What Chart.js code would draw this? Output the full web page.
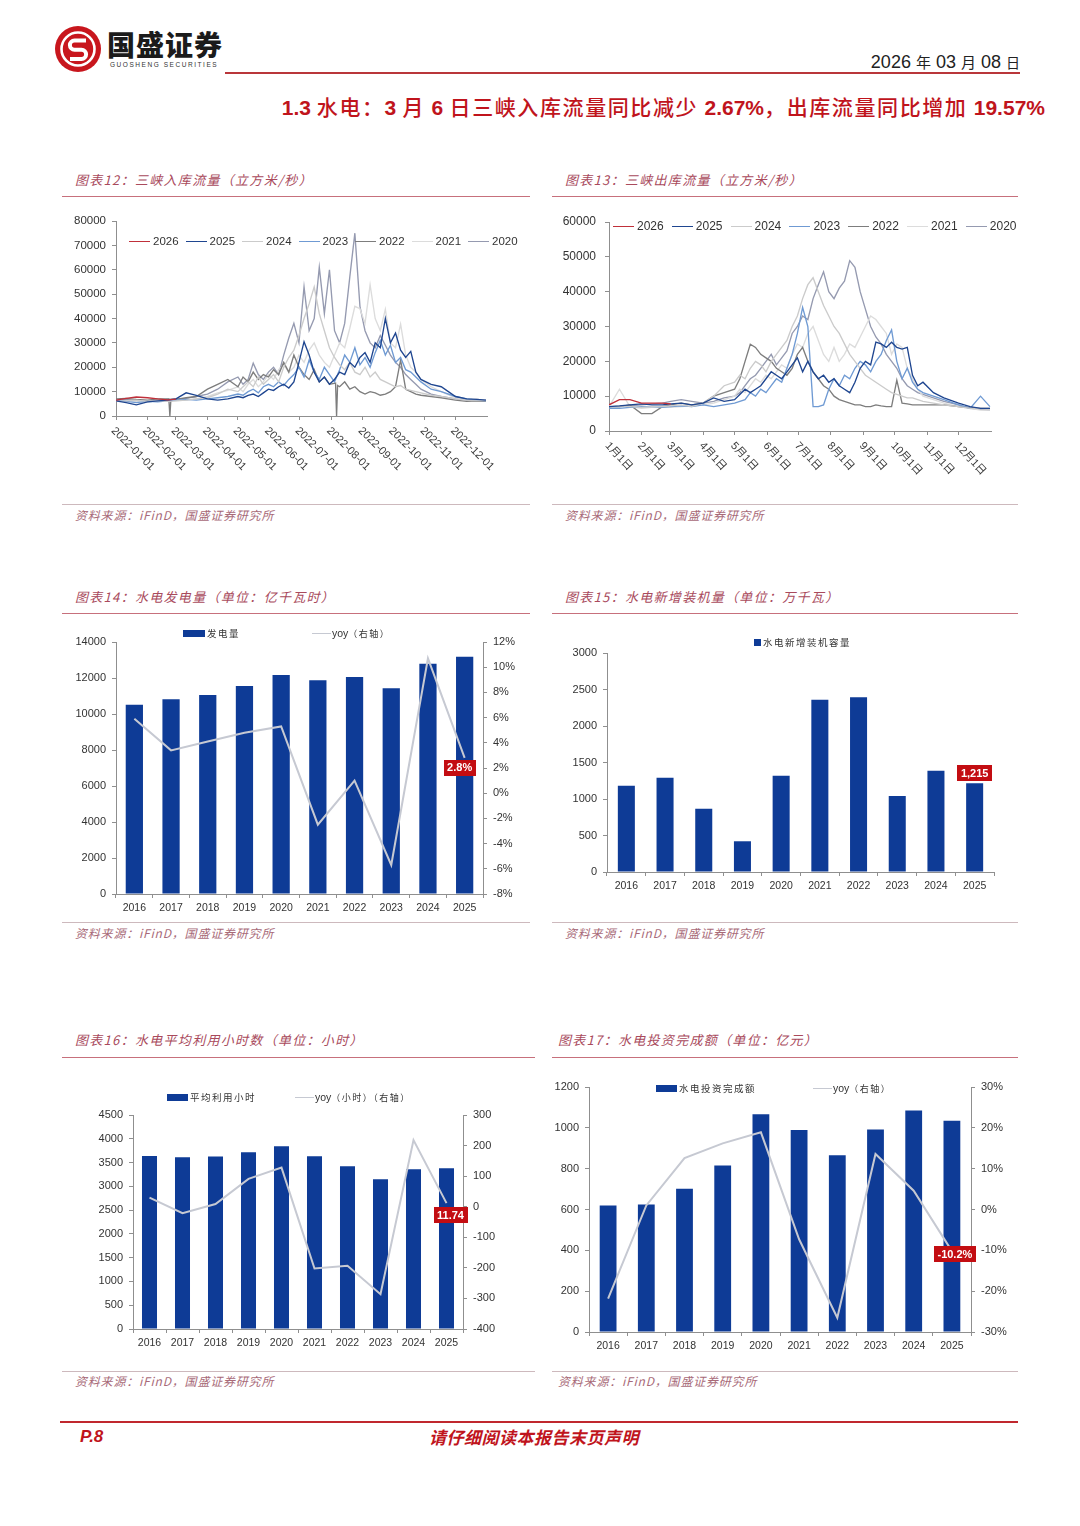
<!DOCTYPE html>
<html><head><meta charset="utf-8">
<script src="https://cdn.jsdelivr.net/npm/chart.js@4.4.1/dist/chart.umd.min.js"></script>
<style>
html,body{margin:0;padding:0;}
body{width:1080px;height:1526px;background:#fff;position:relative;overflow:hidden;font-family:'Liberation Sans',Arial,'Noto Sans CJK SC',sans-serif;}
.abs{position:absolute;white-space:nowrap;}
.ptitle{position:absolute;font-family:'Noto Sans CJK SC',sans-serif;font-style:italic;color:#a94a5c;font-size:13px;letter-spacing:1.3px;white-space:nowrap;line-height:16px;}
.rline{position:absolute;height:0;border-top:1.5px solid #c7707c;}
.sline{position:absolute;height:0;border-top:1.5px solid #cdb9bd;}
.src{position:absolute;font-family:'Noto Sans CJK SC',sans-serif;font-style:italic;color:#a86a78;font-size:12px;letter-spacing:0.8px;white-space:nowrap;line-height:14px;}
canvas{position:absolute;}
.leg{position:absolute;display:flex;align-items:center;white-space:nowrap;color:#333;}
.lsw{display:inline-block;height:0;margin-right:3px;}
.cjk{font-family:'Noto Sans CJK SC',sans-serif;}
.sub .c{font-family:'Noto Sans CJK SC',sans-serif;font-weight:500;letter-spacing:1.6px;}
</style>
</head><body>

<svg class="abs" style="left:54px;top:25px" width="48" height="48" viewBox="0 0 48 48">
  <circle cx="24" cy="24" r="23" fill="#c8161d"/>
  <circle cx="24" cy="24" r="16.5" fill="none" stroke="#fff" stroke-width="2.6"/>
  <path d="M32 15.5 H20.5 a4.6 4.6 0 0 0 0 9.2 h7 a4.6 4.6 0 0 1 0 9.2 H16" fill="none" stroke="#fff" stroke-width="4"/>
</svg>
<div class="abs cjk" style="left:107px;top:27px;font-size:28px;font-weight:900;color:#1b1b1b;letter-spacing:1px;line-height:34px;">国盛证券</div>
<div class="abs" style="left:110px;top:61px;font-size:6.5px;letter-spacing:1.55px;color:#333;line-height:8px;">GUOSHENG SECURITIES</div>
<div class="abs" style="left:225px;top:72px;width:795px;height:0;border-top:2px solid #b9363a;"></div>
<div class="abs" style="right:60px;top:51px;font-size:18px;color:#222;line-height:22px;">2026 <span class="cjk" style="font-size:15px">年</span> 03 <span class="cjk" style="font-size:15px">月</span> 08 <span class="cjk" style="font-size:14px">日</span></div>
<div class="abs sub" style="right:35px;top:92px;font-size:21px;color:#c0141c;font-weight:bold;line-height:28px;"><span>1.3 </span><span class="c">水电：</span><span>3</span><span class="c"> 月 </span><span>6</span><span class="c"> 日三峡入库流量同比减少 </span><span>2.67%</span><span class="c">，出库流量同比增加 </span><span>19.57%</span></div>

<!-- Panel titles and rules -->
<div class="ptitle" style="left:75px;top:172px;">图表12：三峡入库流量（立方米/秒）</div>
<div class="rline" style="left:62px;top:196px;width:468px;"></div>
<div class="ptitle" style="left:565px;top:172px;">图表13：三峡出库流量（立方米/秒）</div>
<div class="rline" style="left:552px;top:196px;width:466px;"></div>
<div class="sline" style="left:62px;top:504px;width:468px;"></div>
<div class="sline" style="left:552px;top:504px;width:466px;"></div>
<div class="src" style="left:75px;top:508px;">资料来源：iFinD，国盛证券研究所</div>
<div class="src" style="left:565px;top:508px;">资料来源：iFinD，国盛证券研究所</div>

<div class="ptitle" style="left:75px;top:589px;">图表14：水电发电量（单位：亿千瓦时）</div>
<div class="rline" style="left:62px;top:613px;width:468px;"></div>
<div class="ptitle" style="left:565px;top:589px;">图表15：水电新增装机量（单位：万千瓦）</div>
<div class="rline" style="left:552px;top:613px;width:466px;"></div>
<div class="sline" style="left:62px;top:922px;width:468px;"></div>
<div class="sline" style="left:552px;top:922px;width:466px;"></div>
<div class="src" style="left:75px;top:926px;">资料来源：iFinD，国盛证券研究所</div>
<div class="src" style="left:565px;top:926px;">资料来源：iFinD，国盛证券研究所</div>

<div class="ptitle" style="left:75px;top:1032px;">图表16：水电平均利用小时数（单位：小时）</div>
<div class="rline" style="left:62px;top:1057px;width:473px;"></div>
<div class="ptitle" style="left:558px;top:1032px;">图表17：水电投资完成额（单位：亿元）</div>
<div class="rline" style="left:552px;top:1057px;width:466px;"></div>
<div class="sline" style="left:62px;top:1371px;width:473px;"></div>
<div class="sline" style="left:552px;top:1371px;width:466px;"></div>
<div class="src" style="left:75px;top:1374px;">资料来源：iFinD，国盛证券研究所</div>
<div class="src" style="left:558px;top:1374px;">资料来源：iFinD，国盛证券研究所</div>

<div class="abs" style="left:60px;top:1421px;width:958px;height:0;border-top:2px solid #c0282e;"></div>
<div class="abs" style="left:80px;top:1426px;font-size:17px;font-weight:bold;font-style:italic;color:#c0141c;line-height:22px;">P.8</div>
<div class="abs cjk" style="left:429px;top:1426px;font-size:17px;font-weight:bold;font-style:italic;color:#c0141c;letter-spacing:0.5px;line-height:22px;">请仔细阅读本报告末页声明</div>

<canvas id="c12" width="468" height="290" style="left:62px;top:205px;"></canvas>
<canvas id="c13" width="466" height="290" style="left:552px;top:205px;"></canvas>
<canvas id="c14" width="468" height="298" style="left:62px;top:620px;"></canvas>
<canvas id="c15" width="466" height="298" style="left:552px;top:620px;"></canvas>
<canvas id="c16" width="473" height="305" style="left:62px;top:1065px;"></canvas>
<canvas id="c17" width="466" height="305" style="left:552px;top:1065px;"></canvas>

<div id="legends"></div>

<script>
// ---------------- DATA ----------------
const YEARS = ['2026','2025','2024','2023','2022','2021','2020'];
const MONTH_START_DAYS = [0,31,59,90,120,151,181,212,243,273,304,334];
const X_TICKS_12 = ['2022-01-01','2022-02-01','2022-03-01','2022-04-01','2022-05-01','2022-06-01','2022-07-01','2022-08-01','2022-09-01','2022-10-01','2022-11-01','2022-12-01'];
const X_TICKS_13 = ['1月1日','2月1日','3月1日','4月1日','5月1日','6月1日','7月1日','8月1日','9月1日','10月1日','11月1日','12月1日'];

// day-of-year sample points (Jan 1 = 0)
const GRID_DAYS = [0,10,20,31,41,51,59,69,79,90,100,110,
  120,125,130,135,140,145,150,155,160,165,170,175,180,185,190,195,200,205,210,215,220,225,230,235,240,245,250,255,260,265,270,275,280,285,290,295,300,
  310,320,334,345,355,364];
const GRID_DAYS_IN_2022 = [0,10,20,31,41,52,53,54,59,69,79,90,100,110,
  120,125,130,135,140,145,150,155,160,165,170,175,180,185,190,195,200,205,210,
  216,217,218,
  220,225,230,235,240,245,250,255,260,265,270,275,280,285,290,295,300,
  310,320,334,345,355,364];

// 三峡入库流量 (立方米/秒)
const IN_2026 = [6500,7200,7800,7500,7000,6600,6900];
const IN_2025 = [6200,5500,4600,5800,6200,6500,7000,9500,8500,7000,6500,7000,
  8000,7500,8500,9000,8000,9500,11000,10500,12000,13000,11500,14000,22000,30500,25000,18000,14000,16000,13000,15000,18000,17000,22000,20000,24000,26000,22000,30000,28000,40000,30000,34000,27000,24000,26500,18000,15000,
  13000,12000,8000,7000,6800,6500];
const IN_2024 = [6000,6200,6500,6000,6300,6000,6200,6500,7000,7500,9000,11000,
  10000,12000,14000,12000,16000,13000,15000,17000,14000,20000,24000,27000,33000,40000,46000,53000,42000,35000,28000,24000,21000,19000,22000,18000,17000,20000,16000,18000,15000,14000,13000,12000,12500,11000,10500,10000,9500,
  8500,8000,7000,6500,6500,6300];
const IN_2023 = [6500,6000,5500,6000,5800,6200,6500,6800,6500,7000,7500,8000,
  9000,8500,10000,11000,9500,12000,13000,12000,14000,12500,15000,17000,20000,16000,23000,18000,15000,20000,17000,14000,19000,25000,22000,28000,21000,24000,20000,26000,31000,25000,29000,22000,24000,19000,18000,16000,14000,
  11000,10000,8000,7000,6500,6200];
const IN_2022 = [7000,7200,6800,6500,7000,7000,0,6800,6800,7500,8000,11000,13000,15000,
  12000,16000,14000,18000,15000,17000,16000,19000,17000,22000,18000,25000,20000,17000,15000,19000,14000,16000,13000,
  13500,0,12500,
  12000,14000,11000,12000,10000,9000,10000,9500,8500,9000,10000,12000,23000,11000,10000,9000,8500,
  8000,7500,6500,6000,6200,6000];
const IN_2021 = [6000,6300,6000,5800,6200,6000,6300,6500,7000,8000,9500,10500,
  12000,10000,13000,15000,12000,14000,17000,15000,19000,21000,18000,20000,25000,22000,27000,30000,25000,22000,20000,25000,30000,28000,36000,45000,44000,38000,53800,40000,35000,43800,30000,28000,37700,25000,20000,18000,15000,
  12000,10000,7500,7000,6800,6500];
const IN_2020 = [6500,6800,6200,6000,6500,6800,7000,7200,8000,9000,11000,14000,
  16000,13000,15000,21700,17000,15000,18000,20000,17000,25000,32000,38000,30000,53000,35000,40000,61000,42000,60000,35000,30000,38000,57000,75000,45000,35000,30000,28000,33000,29000,25000,22000,20000,17000,15000,13000,11000,
  9000,8000,7000,6500,6800,6500];

// 三峡出库流量 (立方米/秒)
const OUT_2026 = [7500,9000,9000,8000,8000,8000,7800];
const OUT_2025 = [7000,7200,7500,7800,7500,7500,7800,8000,7500,8000,9500,8500,
  9000,10500,12000,11000,12000,13000,15000,17000,16000,15000,17000,19000,21000,17000,20000,17000,15000,16000,14000,15000,13000,12000,11000,14000,18000,20000,19000,25500,25000,24000,25500,24000,23500,24000,16000,13000,14000,
  11000,9500,8000,7000,6500,6500];
const OUT_2024 = [7000,7200,7000,6800,7000,7000,7200,7500,7000,8000,10000,13000,
  14000,16000,15000,18000,20000,19000,17000,20000,22000,24000,26000,30000,33000,38000,42000,44000,40000,36000,33000,30000,28000,25000,22000,20000,18000,16000,15000,14000,13000,12000,11000,10500,10000,9500,9500,9000,8500,
  8000,7500,7000,6500,6500,6200];
const OUT_2023 = [6500,6500,6800,7000,7000,6800,7000,7200,7000,7500,7000,7500,
  8000,8500,9000,11000,10000,12000,11000,13000,15000,14000,18000,22000,28000,35500,30000,7000,7000,7500,12000,15000,13000,16000,15000,18000,20000,19000,17000,20000,22000,26000,29000,20000,15000,18000,14000,12000,11000,
  10000,9000,7500,6500,10000,7000];
const OUT_2022 = [7000,7000,7500,5000,5000,7000,7500,8000,7500,8000,10000,11000,
  12000,15000,20000,24900,24000,22000,21000,20000,18000,17000,16000,18000,22000,24000,20000,17000,15000,13000,12000,10000,9000,8500,8000,7500,7500,7000,7000,7500,7200,7000,7000,14600,8000,7800,7500,7500,7500,
  7500,7500,7000,6800,6500,6500];
const OUT_2021 = [7000,12000,7000,6500,6800,7000,6800,7000,7200,7500,8000,9000,
  10000,12000,11000,13000,15000,14000,16000,15000,17000,19000,18000,22000,25000,24000,28000,30000,26000,22000,20000,24000,20000,22000,25000,24000,27000,30000,33000,32000,30000,28000,22000,25000,24000,18000,15000,12000,10000,
  9000,8000,7000,6500,6000,6000];
const OUT_2020 = [7000,7000,7200,7500,7800,8000,8500,9000,8500,8000,8500,9500,
  10000,11000,13000,15000,16000,18000,20000,22000,19000,21000,23000,28000,30000,33000,32000,38000,42000,45700,40000,38000,41000,43000,48900,47000,40000,35000,30000,27000,25000,22000,20000,18000,15000,13000,12000,11000,10500,
  9500,8500,7500,6500,6200,6000];

// annual series
const BAR_YEARS = ['2016','2017','2018','2019','2020','2021','2022','2023','2024','2025'];
const GEN = [10520,10820,11060,11560,12160,11880,12050,11430,12790,13180];      // 亿千瓦时
const GEN_YOY = [5.9,3.4,4.1,4.8,5.3,-2.5,1.0,-5.7,10.7,2.8];                 // %
const CAP_ADD = [1180,1290,866,421,1319,2359,2395,1040,1388,1215];            // 万千瓦
const HOURS = [3639,3611,3625,3716,3842,3632,3422,3149,3359,3380];            // 小时
const HOURS_YOY = [30,-21,9,91,128,-202,-193,-286,218,11.74];                 // 小时
const INVEST = [619,625,702,815,1067,989,866,992,1085,1035];                   // 亿元
const INVEST_YOY = [-21.8,1.0,12.6,16.2,18.9,-7.3,-26.5,13.6,4.6,-10.2];       // %

// ---------------- STYLE ----------------
const SERIES_COLORS = {'2026':'#c0303a','2025':'#1f4690','2024':'#cbcbcb','2023':'#6f9ad3','2022':'#7d7d7d','2021':'#dcdcdc','2020':'#959ab0'};
const BAR_COLOR = '#0e3b96';
const YOY_COLOR = '#c6c9d2';
const AXIS_COLOR = '#8f8f8f';
const TAG_COLOR = '#c30d12';
const plain = v => String(v);

Chart.defaults.font.family = "'Liberation Sans', Arial, 'Noto Sans CJK SC', sans-serif";
Chart.defaults.color = '#333';
Chart.defaults.animation = false;

const rotatedTicks = {
  id: 'rotatedTicks',
  afterDraw(chart, args, o) {
    if (!o || !o.labels) return;
    const ctx = chart.ctx, xs = chart.scales.x, ca = chart.chartArea;
    ctx.save();
    ctx.font = o.font; ctx.fillStyle = o.color; ctx.textAlign = 'left'; ctx.textBaseline = 'middle';
    o.values.forEach((v, i) => {
      const x = xs.getPixelForValue(v);
      ctx.save();
      ctx.translate(x + o.dx, ca.bottom + o.dy);
      ctx.rotate(o.angle * Math.PI / 180);
      ctx.fillText(o.labels[i], 0, 0);
      ctx.restore();
    });
    ctx.restore();
  }
};

const valueTag = {
  id: 'valueTag',
  afterDatasetsDraw(chart, args, o) {
    if (!o || !o.text) return;
    const el = chart.getDatasetMeta(o.dataset).data[o.index];
    if (!el) return;
    const ctx = chart.ctx;
    ctx.save();
    ctx.font = "bold 11px 'Liberation Sans', Arial, sans-serif";
    const w = ctx.measureText(o.text).width + 7, h = 16;
    const x = el.x + o.dx, y = el.y + o.dy;
    ctx.fillStyle = TAG_COLOR;
    ctx.fillRect(Math.round(x - w / 2), Math.round(y - h / 2), Math.round(w), h);
    ctx.fillStyle = '#fff'; ctx.textAlign = 'center'; ctx.textBaseline = 'middle';
    ctx.fillText(o.text, x, y + 0.5);
    ctx.restore();
  }
};

function flowChart(id, cfg) {
  const datasets = cfg.series.map(s => ({
    label: s.label,
    data: s.values.map((v, i) => ({x: s.days[i], y: v})),
    borderColor: SERIES_COLORS[s.label], borderWidth: 1.35, pointRadius: 0, pointHoverRadius: 0, tension: 0, fill: false
  }));
  new Chart(document.getElementById(id), {
    type: 'line',
    data: {datasets},
    options: {
      responsive: false, animation: false, events: [],
      layout: {padding: cfg.padding},
      plugins: {
        legend: {display: false}, tooltip: {enabled: false},
        rotatedTicks: {values: MONTH_START_DAYS, labels: cfg.xLabels, font: cfg.xFont, color: '#3a3a3a', dx: cfg.dx, dy: cfg.dy, angle: cfg.angle}
      },
      scales: {
        x: {type: 'linear', min: 0, max: 365,
            afterBuildTicks: s => { s.ticks = MONTH_START_DAYS.map(v => ({value: v})); },
            ticks: {display: false},
            grid: {drawOnChartArea: false, tickLength: 4, color: AXIS_COLOR},
            border: {color: AXIS_COLOR},
            afterFit: s => { s.height = cfg.xHeight; }},
        y: {min: 0, max: cfg.yMax,
            ticks: {stepSize: 10000, font: {size: cfg.yFont}, color: '#333', padding: cfg.yPad, callback: plain},
            grid: {drawOnChartArea: false, tickLength: 4, color: AXIS_COLOR},
            border: {color: AXIS_COLOR},
            afterFit: s => { s.width = cfg.yWidth; }}
      }
    },
    plugins: [rotatedTicks]
  });
}

function barChart(id, cfg) {
  const datasets = [{type: 'bar', label: cfg.barLabel, data: cfg.bars, backgroundColor: BAR_COLOR,
    categoryPercentage: 1, barPercentage: cfg.barPct, yAxisID: 'y', order: 2}];
  if (cfg.line) datasets.push({type: 'line', label: cfg.lineLabel, data: cfg.line, borderColor: YOY_COLOR,
    borderWidth: 2, pointRadius: 0, pointHoverRadius: 0, tension: 0, yAxisID: 'y1', order: 1});
  const scales = {
    x: {type: 'category', ticks: {font: {size: 10.5}, color: '#333', padding: 4},
        grid: {drawOnChartArea: false, tickLength: 4, color: AXIS_COLOR, offset: true},
        border: {color: AXIS_COLOR},
        afterFit: s => { s.height = cfg.xHeight; }},
    y: {position: 'left', min: 0, max: cfg.yMax,
        ticks: {stepSize: cfg.yStep, font: {size: 11}, color: '#333', padding: 6, callback: plain},
        grid: {drawOnChartArea: false, tickLength: 4, color: AXIS_COLOR},
        border: {color: AXIS_COLOR},
        afterFit: s => { s.width = cfg.yWidth; }}
  };
  if (cfg.line) scales.y1 = {position: 'right', min: cfg.y1Min, max: cfg.y1Max,
        ticks: {stepSize: cfg.y1Step, font: {size: 11}, color: '#333', padding: 6, callback: cfg.y1Fmt},
        grid: {drawOnChartArea: false, tickLength: 4, color: AXIS_COLOR},
        border: {color: AXIS_COLOR},
        afterFit: s => { s.width = cfg.y1Width; }};
  new Chart(document.getElementById(id), {
    data: {labels: BAR_YEARS, datasets},
    options: {
      responsive: false, animation: false, events: [],
      layout: {padding: cfg.padding},
      plugins: {legend: {display: false}, tooltip: {enabled: false}, valueTag: cfg.tag},
      scales
    },
    plugins: [valueTag]
  });
}

// ---------------- CHARTS ----------------
flowChart('c12', {
  series: [
    {label: '2026', days: GRID_DAYS, values: IN_2026},
    {label: '2025', days: GRID_DAYS, values: IN_2025},
    {label: '2024', days: GRID_DAYS, values: IN_2024},
    {label: '2023', days: GRID_DAYS, values: IN_2023},
    {label: '2022', days: GRID_DAYS_IN_2022, values: IN_2022},
    {label: '2021', days: GRID_DAYS, values: IN_2021},
    {label: '2020', days: GRID_DAYS, values: IN_2020}
  ],
  yMax: 80000, yFont: 11.5, yPad: 6, yWidth: 54,
  xLabels: X_TICKS_12, xFont: "11px 'Liberation Sans', Arial, sans-serif", dx: -3, dy: 13, angle: 45,
  padding: {top: 16, right: 43, left: 0, bottom: 0}, xHeight: 79
});

flowChart('c13', {
  series: [
    {label: '2026', days: GRID_DAYS, values: OUT_2026},
    {label: '2025', days: GRID_DAYS, values: OUT_2025},
    {label: '2024', days: GRID_DAYS, values: OUT_2024},
    {label: '2023', days: GRID_DAYS, values: OUT_2023},
    {label: '2022', days: GRID_DAYS, values: OUT_2022},
    {label: '2021', days: GRID_DAYS, values: OUT_2021},
    {label: '2020', days: GRID_DAYS, values: OUT_2020}
  ],
  yMax: 60000, yFont: 12, yPad: 9, yWidth: 57,
  xLabels: X_TICKS_13, xFont: "11px 'Liberation Sans', 'Noto Sans CJK SC', sans-serif", dx: -2, dy: 13, angle: 47,
  padding: {top: 17, right: 27, left: 0, bottom: 0}, xHeight: 64
});

barChart('c14', {
  bars: GEN, barLabel: '发电量', barPct: 0.47, yMax: 14000, yStep: 2000, yWidth: 54,
  line: GEN_YOY, lineLabel: 'yoy（右轴）', y1Min: -8, y1Max: 12, y1Step: 2, y1Width: 47, y1Fmt: v => v + '%',
  padding: {top: 22, right: 0, left: 0, bottom: 0}, xHeight: 24,
  tag: {dataset: 1, index: 9, text: '2.8%', dx: -5, dy: 10}
});

barChart('c15', {
  bars: CAP_ADD, barLabel: '水电新增装机容量', barPct: 0.44, yMax: 3000, yStep: 500, yWidth: 55,
  padding: {top: 33, right: 24, left: 0, bottom: 22}, xHeight: 24,
  tag: {dataset: 0, index: 9, text: '1,215', dx: 0, dy: -10}
});

barChart('c16', {
  bars: HOURS, barLabel: '平均利用小时', barPct: 0.455, yMax: 4500, yStep: 500, yWidth: 71,
  line: HOURS_YOY, lineLabel: 'yoy（小时）（右轴）', y1Min: -400, y1Max: 300, y1Step: 100, y1Width: 72, y1Fmt: plain,
  padding: {top: 50, right: 0, left: 0, bottom: 17}, xHeight: 24,
  tag: {dataset: 1, index: 9, text: '11.74', dx: 4, dy: 12}
});

barChart('c17', {
  bars: INVEST, barLabel: '水电投资完成额', barPct: 0.44, yMax: 1200, yStep: 200, yWidth: 37,
  line: INVEST_YOY, lineLabel: 'yoy（右轴）', y1Min: -30, y1Max: 30, y1Step: 10, y1Width: 47, y1Fmt: v => v + '%',
  padding: {top: 22, right: 0, left: 0, bottom: 14}, xHeight: 24,
  tag: {dataset: 1, index: 9, text: '-10.2%', dx: 3, dy: 3}
});

// ---------------- LEGENDS ----------------
const legRoot = document.getElementById('legends');
function lineLegend(left, top, spacing, fontSize) {
  YEARS.forEach((y, i) => {
    const d = document.createElement('div');
    d.className = 'leg';
    d.style.left = (left + i * spacing) + 'px';
    d.style.top = (top - 8) + 'px';
    d.style.height = '16px';
    d.style.fontSize = fontSize + 'px';
    d.innerHTML = '<span class="lsw" style="width:21px;border-top:1.5px solid ' + SERIES_COLORS[y] + '"></span>' + y;
    legRoot.appendChild(d);
  });
}
lineLegend(129, 241, 56.5, 11.5);
lineLegend(613, 226, 58.8, 12);

function barLegend(x, y, w, label, lx, llabel) {
  const d = document.createElement('div');
  d.className = 'leg';
  d.style.left = x + 'px'; d.style.top = (y - 8) + 'px'; d.style.height = '16px';
  d.innerHTML = '<span style="display:inline-block;width:' + w + 'px;height:7px;background:' + BAR_COLOR + ';margin-right:2px"></span>' +
    '<span class="cjk" style="font-size:9.5px;letter-spacing:1.5px">' + label + '</span>';
  legRoot.appendChild(d);
  if (llabel) {
    const e = document.createElement('div');
    e.className = 'leg';
    e.style.left = lx + 'px'; e.style.top = (y - 8) + 'px'; e.style.height = '16px';
    e.innerHTML = '<span class="lsw" style="width:19px;border-top:1.5px solid ' + YOY_COLOR + ';margin-right:1px"></span>' +
      '<span style="font-size:10.5px">yoy</span><span class="cjk" style="font-size:9px;letter-spacing:1.5px">' + llabel + '</span>';
    legRoot.appendChild(e);
  }
}
barLegend(183, 633, 22, '发电量', 312, '（右轴）');
barLegend(754, 642, 7, '水电新增装机容量', 0, null);
barLegend(167, 1097, 21, '平均利用小时', 295, '（小时）（右轴）');
barLegend(656, 1088, 21, '水电投资完成额', 813, '（右轴）');
</script>
</body></html>
